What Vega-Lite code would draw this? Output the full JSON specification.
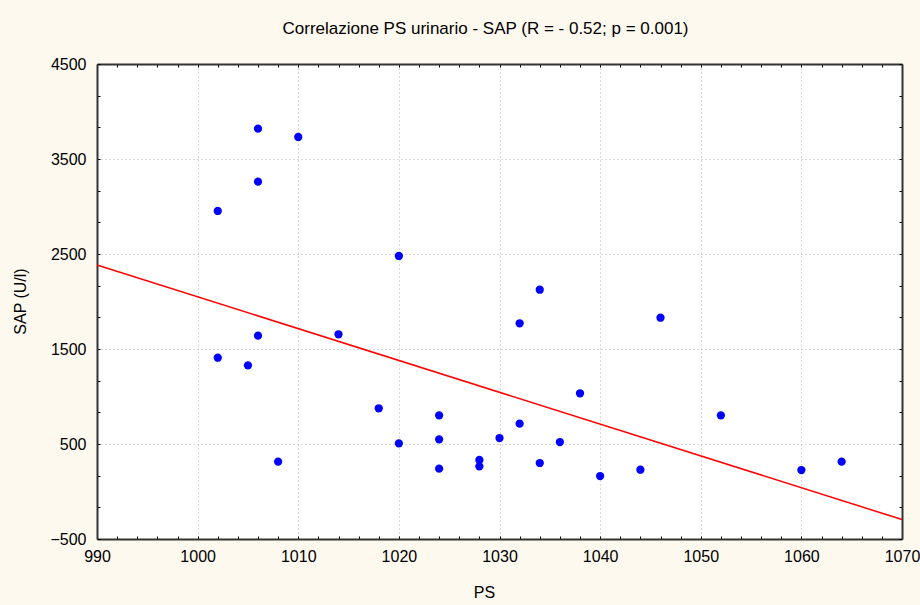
{
  "$schema": "https://vega.github.io/schema/vega-lite/v6.json",
  "width": 805,
  "height": 475,
  "autosize": "none",
  "padding": {"left": 97, "top": 64, "right": 18, "bottom": 66},
  "background": "#fdf9ef",
  "title": {
    "text": "Correlazione PS urinario - SAP (R = - 0.52; p = 0.001)",
    "font": "Liberation Sans",
    "fontSize": 17,
    "fontWeight": "normal",
    "color": "#000000",
    "offset": 18,
    "dx": -14
  },
  "config": {
    "view": {"fill": "#ffffff", "stroke": null},
    "axis": {
      "labelFont": "Liberation Sans",
      "labelFontSize": 16,
      "labelColor": "#000000",
      "titleFont": "Liberation Sans",
      "titleFontSize": 16,
      "titleFontWeight": "normal",
      "titleColor": "#000000",
      "domainColor": "#333333",
      "domainWidth": 2,
      "tickColor": "#000000",
      "tickWidth": 1,
      "tickSize": -3,
      "gridColor": "#b4b4b4",
      "gridDash": [1, 3],
      "gridWidth": 1,
      "labelOverlap": false,
      "labelFlush": false
    }
  },
  "datasets": {
    "pts": [
      {"PS": 1002, "SAP": 2953},
      {"PS": 1002, "SAP": 1408},
      {"PS": 1006, "SAP": 3819},
      {"PS": 1006, "SAP": 3261},
      {"PS": 1006, "SAP": 1640},
      {"PS": 1005, "SAP": 1328},
      {"PS": 1008, "SAP": 314},
      {"PS": 1010, "SAP": 3732},
      {"PS": 1014, "SAP": 1655},
      {"PS": 1018, "SAP": 876},
      {"PS": 1020, "SAP": 2479},
      {"PS": 1020, "SAP": 507},
      {"PS": 1024, "SAP": 802},
      {"PS": 1024, "SAP": 549},
      {"PS": 1024, "SAP": 240},
      {"PS": 1028, "SAP": 332},
      {"PS": 1028, "SAP": 265},
      {"PS": 1030, "SAP": 563},
      {"PS": 1032, "SAP": 1771},
      {"PS": 1032, "SAP": 714},
      {"PS": 1034, "SAP": 2124},
      {"PS": 1034, "SAP": 300},
      {"PS": 1036, "SAP": 521},
      {"PS": 1038, "SAP": 1034},
      {"PS": 1040, "SAP": 163},
      {"PS": 1044, "SAP": 229},
      {"PS": 1046, "SAP": 1829},
      {"PS": 1052, "SAP": 802},
      {"PS": 1060, "SAP": 226},
      {"PS": 1064, "SAP": 314}
    ],
    "fit": [
      {"PS": 990, "SAP": 2384},
      {"PS": 1070, "SAP": -295}
    ]
  },
  "layer": [
    {
      "data": {"name": "fit"},
      "mark": {"type": "line", "color": "#ff0000", "strokeWidth": 1.5},
      "encoding": {
        "x": {
          "field": "PS", "type": "quantitative",
          "scale": {"domain": [990, 1070], "nice": false, "zero": false},
          "axis": {
            "orient": "bottom",
            "title": "PS",
            "titleX": 387,
            "titleY": 45,
            "titleBaseline": "top",
            "values": [990,992,994,996,998,1000,1002,1004,1006,1008,1010,1012,1014,1016,1018,1020,1022,1024,1026,1028,1030,1032,1034,1036,1038,1040,1042,1044,1046,1048,1050,1052,1054,1056,1058,1060,1062,1064,1066,1068,1070],
            "labelExpr": "datum.value % 10 === 0 ? datum.label : ''",
            "format": "d",
            "labelPadding": 12,
            "grid": true,
            "gridOpacity": {"condition": {"test": "datum.value % 10 === 0", "value": 1}, "value": 0}
          }
        },
        "y": {
          "field": "SAP", "type": "quantitative",
          "scale": {"domain": [-500, 4500], "nice": false, "zero": false},
          "axis": {
            "orient": "left",
            "title": "SAP (U/l)",
            "titleX": -77,
            "titleY": 237,
            "titleAlign": "center",
            "titleBaseline": "middle",
            "titleAngle": -90,
            "values": [-500,-166.667,166.667,500,833.333,1166.667,1500,1833.333,2166.667,2500,2833.333,3166.667,3500,3833.333,4166.667,4500],
            "labelExpr": "abs((datum.value + 500) % 1000) < 1 ? format(datum.value, 'd') : ''",
            "labelPadding": 14,
            "grid": true,
            "gridOpacity": {"condition": {"test": "abs((datum.value + 500) % 1000) < 1", "value": 1}, "value": 0}
          }
        }
      }
    },
    {
      "data": {"name": "pts"},
      "mark": {"type": "circle", "color": "#0000ff", "size": 68, "opacity": 1},
      "encoding": {
        "x": {
          "field": "PS", "type": "quantitative",
          "axis": {
            "orient": "top",
            "title": null,
            "labels": false,
            "grid": false,
            "values": [990,992,994,996,998,1000,1002,1004,1006,1008,1010,1012,1014,1016,1018,1020,1022,1024,1026,1028,1030,1032,1034,1036,1038,1040,1042,1044,1046,1048,1050,1052,1054,1056,1058,1060,1062,1064,1066,1068,1070]
          }
        },
        "y": {
          "field": "SAP", "type": "quantitative",
          "axis": {
            "orient": "right",
            "title": null,
            "labels": false,
            "grid": false,
            "values": [-500,-166.667,166.667,500,833.333,1166.667,1500,1833.333,2166.667,2500,2833.333,3166.667,3500,3833.333,4166.667,4500]
          }
        }
      }
    }
  ],
  "resolve": {"axis": {"x": "independent", "y": "independent"}}
}
